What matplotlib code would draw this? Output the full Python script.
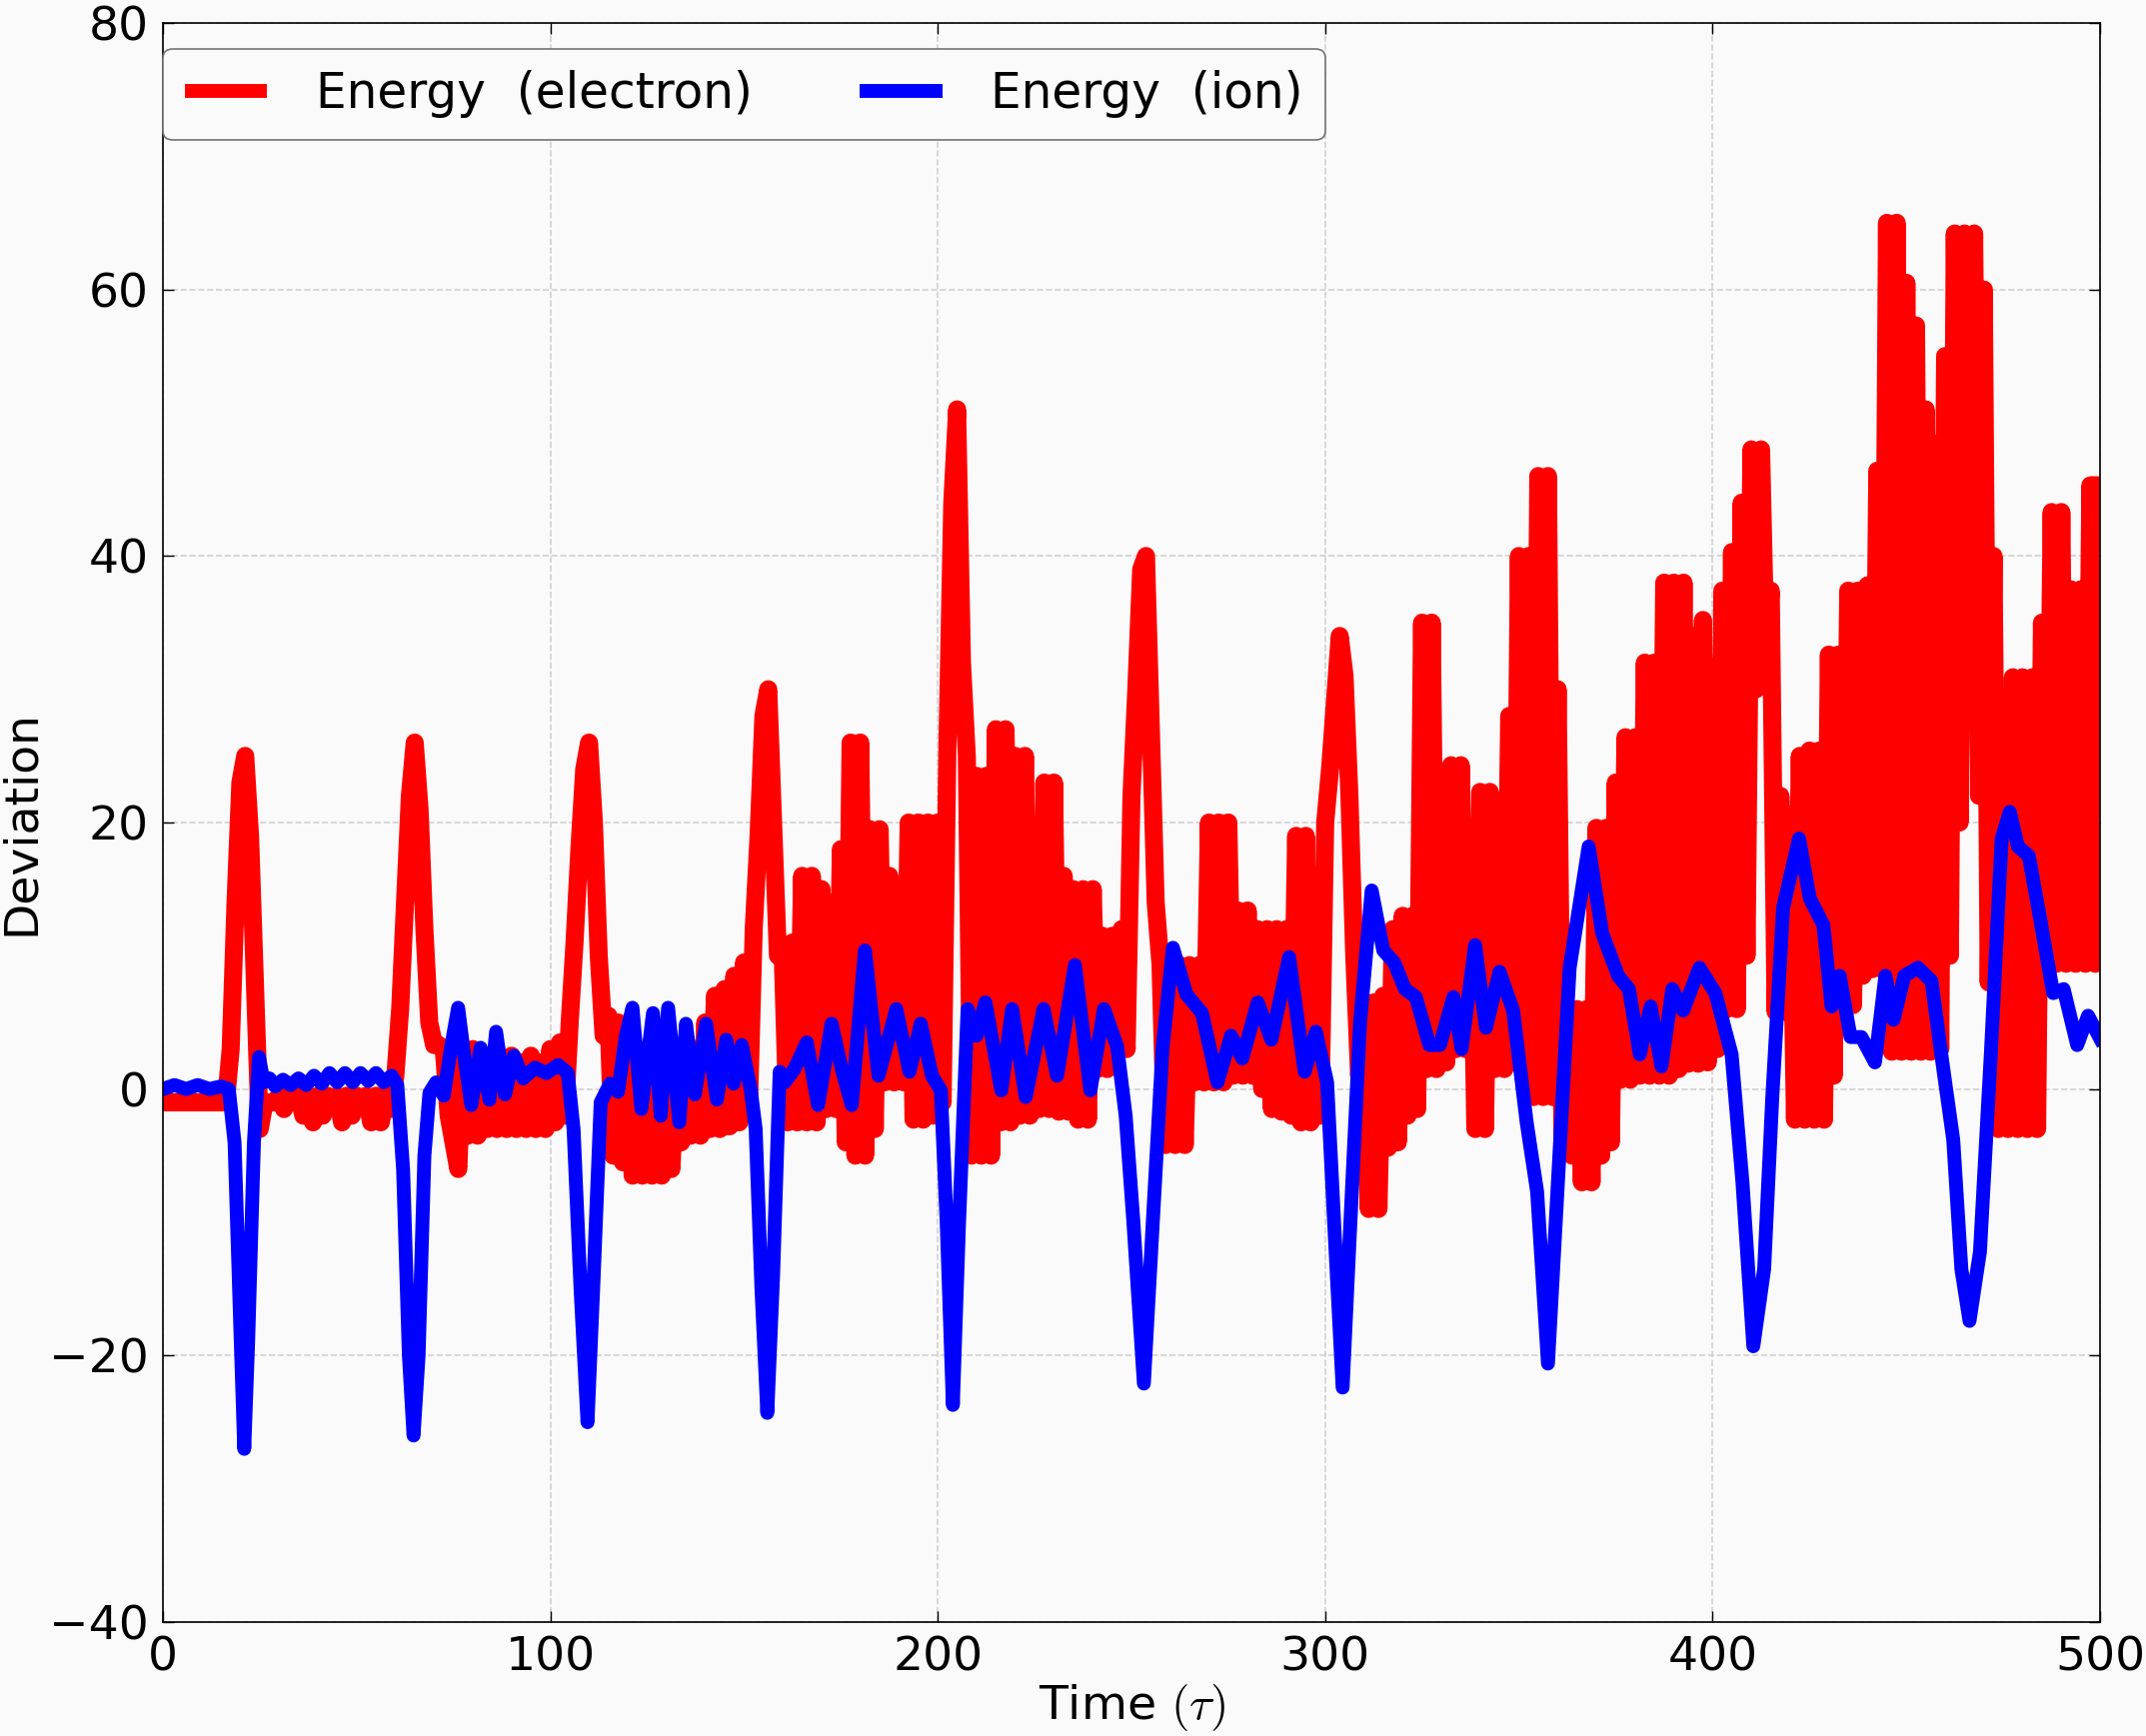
import numpy as np
import matplotlib
matplotlib.use("Agg")
import matplotlib.pyplot as plt

plt.rcParams['font.family'] = ['DejaVu Sans']
plt.rcParams['mathtext.fontset'] = 'cm'

# electron energy deviation: the signal oscillates fast, so it is kept as two
# phases, upper swing at t = 0, 2.5, ..., 500 and
# lower swing half a step later (t = 1.25, 3.75, ..., 498.75)
red_top = [
    -1, -1, -1, -1, -1, -1, -1, 3, 23, 19,
    -3, -1, -0.5, -0.5, -0.5, -0.5, -0.5, -0.5, -0.5, -0.5,
    -0.5, -0.5, -0.5, -0.5, 1, 14, 26, 12, 3.3, 3,
    -4, 3, 3, 2, 2.5, 2, 2.5, 2, 2.5, 2,
    3, 3.5, 5, 18, 26, 10, 5.5, 5, 3, 2,
    3, 2, 2, 1.5, 2, 3, 5, 7, 7.5, 8.5,
    9.5, 12, 28, 20, 10, 11, 16, 16, 15, 14,
    18, 26, 26, 19.5, 19.5, 16, 10, 20, 20, 20,
    20, 26, 51, 25, 23.5, 23.5, 27, 27, 25, 25,
    17, 23, 23, 16, 15, 15, 15, 11.5, 11.5, 12,
    22, 39, 27, 9.3, 9.3, 9.3, 9.3, 9.3, 20, 20,
    20, 13.4, 13.4, 12, 12, 12, 12, 19, 19, 15.6,
    20, 29, 31, 10, 6, 6.5, 7, 12, 13, 13,
    35, 35, 22.7, 24.3, 24.3, 19, 22.3, 22.3, 19, 28,
    40, 40, 46, 46, 30, 6, 6, 6, 19.6, 19.6,
    23, 26.4, 26.4, 32, 32, 38, 38, 38, 34, 35.2,
    31.7, 37.4, 40.3, 44, 48, 48, 37.4, 22, 20.6, 25,
    25.4, 25.4, 32.6, 32.6, 37.4, 37.4, 37.8, 46.4, 65, 65,
    60.5, 57.3, 51, 48.4, 55, 64.2, 64.2, 64.2, 60, 40,
    28.6, 30.9, 30.9, 30.9, 35, 43.3, 43.3, 37.5, 37.5, 45.3,
    45.3,
]
red_bot = [
    -1, -1, -1, -1, -1, -1, -1, 14, 25, 8,
    -1, -1, -1.5, -1, -2, -2.5, -2, -1, -2.5, -2,
    -1, -2.5, -2.5, -1.5, 6, 22, 21, 5, 3.3, -2,
    -6, -3.5, -3.5, -3, -3, -3, -3, -3, -3, -3,
    -2.5, -2, 11, 24, 20, 4, -5, -5.5, -6.5, -6.5,
    -6.5, -6.5, -6, -4, -3.5, -3.5, -3, -3, -2.8, -2.5,
    -1.5, 19, 30, 10, -2.5, -2.5, -2.5, -2.5, -1.5, -1.5,
    -4, -5, -5, -3, 0.5, 0.5, 0.5, -2.3, -2.3, -2,
    -1, 44, 32, -5, -5, -5, -2.5, -2.5, -2, -2,
    -1.5, -1.5, -1.7, -1.7, -2.3, -2.3, 1.5, 1.5, 2.7, 3,
    30, 40, 14, -4.2, -4.2, -4.2, 0.5, 0.5, 0.5, 0.5,
    1, 1, 1, 0, -1.5, -1.7, -2, -2.5, -2.5, -2,
    24, 34, 22, 1, -9, -9, -4.4, -4, -2, -1.5,
    1.5, 1.5, 2, 3, 3, -3, -3, 1.5, 1.5, 2,
    2, -0.6, -0.6, -0.6, -3.5, -5, -7, -7, -5, -4,
    0.7, 0.7, 1, 1, 1, 1, 1.5, 1.9, 1.9, 2,
    3, 6, 6, 10, 30, 32, 5.8, 5.8, -2.3, -2.3,
    -2.3, -2.3, 1, 6.3, 6.3, 8.5, 9, 9, 2.8, 2.8,
    2.8, 2.8, 2.8, 3, 10, 20, 28, 22, 8, -3,
    -3, -3, -3, -3, 9.4, 9.4, 9.4, 9.4, 9.4, 9.4,
]
red_step = 2.5

# ion energy deviation
blue_t = [0, 3, 6, 9, 12, 15, 17, 18.5, 20, 21, 22, 23.5, 24.8, 26, 27.5, 29, 31, 33, 35, 37,
          39, 41, 43, 45, 47, 49, 51, 53, 55, 57, 59, 60.5, 62, 63.5, 64.7, 66, 67.5, 68.8,
          70.5, 72.5, 74.3, 76.2, 78, 79.6, 82, 84.3, 86, 88.3, 90.6, 93, 96, 99, 102, 104.5,
          106, 107.8, 109.6, 111.2, 113, 115.4, 117.5, 119.5, 121.2, 123.5, 126.5, 128.5,
          130.4, 133.3, 135, 137.3, 140.2, 143, 145.4, 147.3, 149.4, 151.7, 153, 154.5, 156,
          157.5, 159.2, 160.5, 163, 166.2, 169.1, 172.6, 175.2, 177.8, 179.6, 181.2, 184.7,
          189.3, 192.7, 195.6, 198.5, 200.8, 202.3, 203.9, 205.5, 207.7, 210, 212.3, 216.4,
          219.2, 222.7, 227.3, 230.8, 235.4, 239.4, 242.9, 246.3, 248.5, 250.5, 253.2, 255.5,
          258, 260.7, 264.2, 268.2, 272.2, 275.7, 278.6, 282.6, 286.1, 290.7, 294.7, 297.6,
          300.5, 302.3, 304.5, 306.5, 309, 312, 315, 317.8, 320.6, 323.4, 326.9, 329.6, 333.1,
          335.2, 338.7, 341.5, 345, 348.5, 352, 354.7, 357.5, 360.3, 363.1, 365.9, 368, 371.5,
          375.6, 378.4, 381.2, 384, 386.8, 389.6, 392.4, 396.6, 400.7, 404.9, 407.7, 410.5,
          413.3, 415.4, 418.2, 422.3, 425.1, 428.6, 430.7, 432.8, 435.6, 438.4, 441.9, 444.6,
          446.7, 449.5, 453, 456.5, 459.3, 462.1, 464.2, 466.3, 469, 471.8, 474.6, 476.7,
          478.8, 481.6, 484.4, 487.9, 490.6, 494.1, 496.9, 500]
blue_v = [0, 0.3, 0, 0.3, 0, 0.2, 0, -4, -18, -27, -19, -4, 2.4, 0.5, 0.8, 0.2, 0.7, 0.3, 0.8, 0.3,
          1, 0.4, 1.2, 0.5, 1.2, 0.5, 1.2, 0.6, 1.2, 0.5, 1.0, 0.3, -6, -20, -26, -20, -5, -0.3,
          0.5, -0.5, 3, 6.1, 2, -1.2, 3.1, -0.8, 4.3, -0.4, 2.5, 0.8, 1.6, 1.2, 1.8, 1.2,
          -3, -15, -25, -14, -1, 0.4, -0.2, 4, 6.1, -1.5, 5.7, -2,
          6.1, -2.5, 4.9, -0.4, 4.9, -0.8, 3.7, 0.4, 3.3, 0, -3, -15, -24.3,
          -14, 1.3, 0.5, 1.5, 3.5, -1.2, 4.9, 1.5, -1.2, 5, 10.4, 1.0,
          6.0, 1.3, 4.9, 1.0, -0.1, -10, -23.7, -10, 6.0, 4, 6.5, -0.1,
          6.0, -0.6, 6.0, 1.0, 9.3, -0.1, 6.0, 3.2, -2, -10, -22.1, -10,
          3, 10.6, 7.1, 5.7, 0.5, 4.0, 2.3, 6.5, 3.7, 9.9, 1.3, 4.3,
          0.5, -10, -22.4, -10, 5, 14.9, 10.4, 9.5, 7.5, 6.9, 3.3, 3.3, 6.9,
          3.0, 10.8, 4.6, 8.8, 5.9, -2.5, -7.7, -20.6, -5.7, 9.1, 14.3, 18.2, 11.7,
          8.5, 7.5, 2.6, 6.2, 1.7, 7.5, 5.9, 9.1, 7.2, 2.6, -7.0, -19.3,
          -13.5, -0.6, 13.6, 18.8, 14.3, 12.3, 6.2, 8.5, 3.9, 3.9, 2.0, 8.5,
          5.2, 8.5, 9.1, 8.1, 2.0, -3.8, -13.5, -17.4, -12.2, 2.6, 18.8, 20.8,
          18.2, 17.5, 13, 7.2, 7.5, 3.3, 5.5, 3.8]

x_ticks = [0, 100, 200, 300, 400, 500]
y_ticks = [-40, -20, 0, 20, 40, 60, 80]

# put the two phases back in time order
red_t, red_v = [], []
for i, v in enumerate(red_top):
    red_t.append(i * red_step)
    red_v.append(v)
    if i < len(red_bot):
        red_t.append(i * red_step + red_step / 2)
        red_v.append(red_bot[i])

bg = '#fafafa'
fig, ax = plt.subplots(figsize=(21.47, 17.37), dpi=100, facecolor=bg)
fig.subplots_adjust(left=0.0759, right=0.9786, bottom=0.0656, top=0.9868)
ax.set_facecolor(bg)

ax.plot(red_t, red_v, color='#ff0000', lw=13, label='Energy  (electron)')
ax.plot(blue_t, blue_v, color='#0000ff', lw=10, label='Energy  (ion)')

ax.set_xlim(0, 500)
ax.set_ylim(-40, 80)
ax.set_xticks(x_ticks)
ax.set_yticks(y_ticks)
ax.grid(True, color='0.82', linestyle='--', linewidth=1.2)
ax.set_axisbelow(True)
ax.tick_params(direction='in', length=8, width=1, top=True, right=True,
               labelsize=34, pad=10)
for s in ax.spines.values():
    s.set_linewidth(1.2)
    s.set_color('black')

ax.set_xlabel(r'Time $(\tau)$', fontsize=34, labelpad=1)
ax.set_ylabel('Deviation', fontsize=34, labelpad=4)

leg = ax.legend(loc='upper left', bbox_to_anchor=(0.0, 0.984), borderaxespad=0,
                ncol=2, fontsize=35, fancybox=True, columnspacing=2.2,
                handlelength=1.7, handletextpad=1.0, borderpad=0.45, framealpha=1.0)
for h in leg.get_lines():
    h.set_solid_capstyle('butt')
    h.set_linewidth(10)
leg.get_frame().set_edgecolor('0.45')
leg.get_frame().set_facecolor(bg)
leg.get_frame().set_linewidth(1.2)

fig.savefig('out.png', dpi=100, facecolor=bg)
